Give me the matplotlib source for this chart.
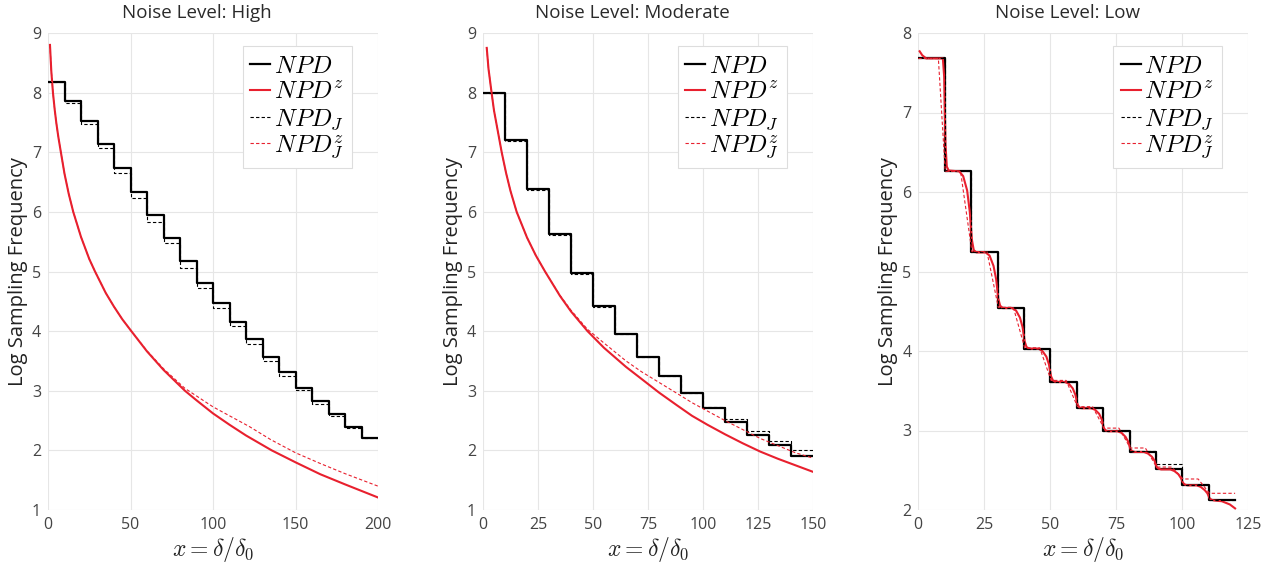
import matplotlib.pyplot as plt

plt.rcParams['font.family'] = ['Open Sans', 'DejaVu Sans']
plt.rcParams['mathtext.fontset'] = 'cm'

RED = '#e8202e'

# ---- Noise level: High ----
high_edges = list(range(0, 201, 10))
high_npd = [8.18, 7.86, 7.52, 7.14, 6.73, 6.33, 5.94, 5.56, 5.17, 4.81,
            4.48, 4.16, 3.86, 3.57, 3.31, 3.05, 2.82, 2.61, 2.40, 2.21]
high_npd_j = [8.17, 7.82, 7.47, 7.07, 6.65, 6.23, 5.83, 5.47, 5.06, 4.72,
              4.39, 4.08, 3.79, 3.50, 3.25, 3.01, 2.78, 2.57, 2.38, 2.21]
high_z_x = [1.2, 2, 3, 4, 5, 6.3, 7.8, 10, 12.5, 15.3, 20, 25, 28.5, 35, 40, 45,
            50.5, 60, 70, 83, 90, 100, 110, 120, 135.6, 150, 165, 180, 200]
high_z_y = [8.80, 8.36, 8.00, 7.73, 7.50, 7.25, 7.00, 6.64, 6.31, 6.00, 5.58, 5.21,
            5.00, 4.64, 4.41, 4.20, 4.00, 3.66, 3.35, 3.00, 2.84, 2.62, 2.43, 2.25,
            2.00, 1.80, 1.60, 1.43, 1.21]
high_zj_x = [1.2, 2, 3, 4, 5, 6.3, 7.8, 10, 12.5, 15.3, 20, 25, 28.5, 35, 40, 45,
             50.5, 60, 70, 83, 100, 122, 135, 150, 165, 180, 200]
high_zj_y = [8.80, 8.36, 8.00, 7.73, 7.50, 7.25, 7.00, 6.64, 6.31, 6.00, 5.58, 5.21,
             5.00, 4.64, 4.41, 4.20, 4.00, 3.67, 3.37, 3.04, 2.73, 2.40, 2.18, 1.96,
             1.78, 1.61, 1.40]

# ---- Noise level: Moderate ----
mod_edges = list(range(0, 151, 10))
mod_npd = [8.00, 7.20, 6.38, 5.63, 4.97, 4.42, 3.96, 3.57, 3.24, 2.96,
           2.71, 2.47, 2.26, 2.09, 1.91]
mod_npd_j = [8.00, 7.19, 6.36, 5.62, 4.96, 4.41, 3.96, 3.57, 3.24, 2.97,
             2.73, 2.52, 2.33, 2.16, 2.01]
mod_z_x = [1.7, 2.5, 3.9, 5, 6.5, 8.5, 10.5, 12.5, 15.3, 20, 24, 28.2, 35, 40,
           47.5, 55, 65, 72, 80, 88, 95, 102, 110, 118, 126, 134, 142, 150]
mod_z_y = [8.75, 8.40, 8.00, 7.70, 7.40, 7.00, 6.65, 6.35, 6.00, 5.57, 5.27, 5.00,
           4.59, 4.33, 4.00, 3.72, 3.40, 3.20, 2.97, 2.76, 2.58, 2.43, 2.27, 2.12,
           1.98, 1.86, 1.75, 1.64]
mod_zj_x = [1.7, 2.5, 3.9, 5, 6.5, 8.5, 10.5, 12.5, 15.3, 20, 24, 28.2, 35, 40,
            47.5, 55, 65, 72, 80, 88, 95, 102, 110, 118, 126, 134, 142, 150]
mod_zj_y = [8.75, 8.40, 8.00, 7.70, 7.40, 7.00, 6.65, 6.35, 6.00, 5.57, 5.27, 5.00,
            4.60, 4.35, 4.03, 3.80, 3.50, 3.32, 3.14, 2.96, 2.80, 2.66, 2.50, 2.35,
            2.20, 2.08, 1.96, 1.87]

# ---- Noise level: Low ----
low_edges = list(range(0, 121, 10))
low_npd = [7.68, 6.26, 5.24, 4.54, 4.03, 3.61, 3.28, 2.99, 2.73, 2.52, 2.31, 2.12]
low_npd_j = [7.68, 6.26, 5.24, 4.54, 4.03, 3.61, 3.28, 2.99, 2.74, 2.58, 2.32, 2.13]
low_z_x = [0.5, 1.5, 3, 9.3, 9.8, 10.3, 10.8, 11.5,
           15.5, 17, 18.5, 19.5, 20.3, 21, 22,
           25.5, 27, 28.5, 29.5, 30.3, 31, 32,
           35.5, 37, 38.5, 39.5, 40.3, 41, 42,
           45.5, 47, 48.5, 49.5, 50.3, 51, 52,
           55.5, 57, 58.5, 59.5, 60.3, 61, 62,
           65.5, 67, 68.5, 69.5, 70.3, 71, 72,
           75.5, 77, 78.5, 79.5, 80.3, 81, 82,
           85.5, 87, 88.5, 89.5, 90.3, 91, 92,
           95.5, 97, 98.5, 99.5, 100.3, 101, 102,
           105.5, 107, 108.5, 109.5, 110.3, 111, 112,
           115, 118, 120]
low_z_y = [7.77, 7.72, 7.68, 7.68, 7.45, 6.60, 6.32, 6.27,
           6.26, 6.20, 6.02, 5.75, 5.40, 5.27, 5.24,
           5.24, 5.20, 5.07, 4.90, 4.66, 4.57, 4.54,
           4.54, 4.51, 4.42, 4.30, 4.12, 4.05, 4.03,
           4.03, 4.00, 3.93, 3.83, 3.68, 3.63, 3.61,
           3.61, 3.59, 3.53, 3.45, 3.33, 3.29, 3.28,
           3.28, 3.26, 3.21, 3.14, 3.03, 3.00, 2.99,
           2.99, 2.97, 2.92, 2.86, 2.77, 2.74, 2.73,
           2.73, 2.71, 2.67, 2.62, 2.54, 2.52, 2.51,
           2.51, 2.49, 2.45, 2.40, 2.34, 2.32, 2.31,
           2.31, 2.29, 2.25, 2.21, 2.15, 2.13, 2.12,
           2.11, 2.07, 2.02]
low_zj_x = [0, 7.6, 10.2, 16, 20.3, 26, 30.3, 36, 40.3, 46, 50.3, 56, 60.3, 66, 70.3,
            76, 80.3, 86, 90.3, 96, 100.3, 106, 110.3, 120]
low_zj_y = [7.68, 7.68, 6.26, 6.26, 5.25, 5.25, 4.55, 4.55, 4.04, 4.04, 3.63, 3.63,
            3.30, 3.30, 3.03, 3.03, 2.78, 2.78, 2.54, 2.54, 2.39, 2.39, 2.21, 2.21]

titles = ['Noise Level: High', 'Noise Level: Moderate', 'Noise Level: Low']
labels = [r'$NPD$', r'$NPD^z$', r'$NPD_J$', r'$NPD_J^z$']

fig = plt.figure(figsize=(12.86, 5.65), dpi=100)

lefts = [48 / 1286, 483 / 1286, 918.3 / 1286]
panel_data = [
    (high_edges, high_npd, high_npd_j, high_z_x, high_z_y, high_zj_x, high_zj_y,
     (0, 200), [0, 50, 100, 150, 200], (1, 9), range(1, 10)),
    (mod_edges, mod_npd, mod_npd_j, mod_z_x, mod_z_y, mod_zj_x, mod_zj_y,
     (0, 150), [0, 25, 50, 75, 100, 125, 150], (1, 9), range(1, 10)),
    (low_edges, low_npd, low_npd_j, low_z_x, low_z_y, low_zj_x, low_zj_y,
     (0, 125), [0, 25, 50, 75, 100, 125], (2, 8), range(2, 9)),
]

for i, (edges, npd, npd_j, zx, zy, zjx, zjy, xlim, xt, ylim, yt) in enumerate(panel_data):
    ax = fig.add_axes([lefts[i], 55 / 565, 330 / 1286, 477 / 565])

    l1, = ax.step(edges, npd + [npd[-1]], where='post', color='black', lw=1.6)
    l2, = ax.plot(zx, zy, color=RED, lw=1.5)
    l3, = ax.step(edges, npd_j + [npd_j[-1]], where='post', color='black',
                  lw=0.8, ls=(0, (3, 2)))
    l4, = ax.plot(zjx, zjy, color=RED, lw=0.8, ls=(0, (3, 2)))

    ax.set_xlim(*xlim)
    ax.set_ylim(*ylim)
    ax.set_xticks(xt)
    ax.set_yticks(list(yt))
    ax.grid(True, color='#e6e6e6', lw=0.8)
    ax.set_axisbelow(True)
    for s in ax.spines.values():
        s.set_visible(False)
    ax.tick_params(length=0, labelsize=11.5, labelcolor='#444444', pad=5)

    ax.text(0.452, 1.031, titles[i], transform=ax.transAxes, ha='center',
            va='baseline', fontsize=13.5, color='#2a2a2a')
    ax.text(-0.092, 0.5, 'Log Sampling Frequency', transform=ax.transAxes,
            rotation=90, ha='center', va='center', fontsize=14.5, color='#222222')
    ax.text(0.5, -0.082, r'$x = \delta/\delta_0$', transform=ax.transAxes,
            ha='center', va='center', fontsize=17, color='#222222')

    leg = ax.legend([l1, l2, l3, l4], labels, loc='upper right',
                    bbox_to_anchor=(0.92, 0.972), borderaxespad=0, fontsize=18,
                    handlelength=0.8, handletextpad=0.15, labelspacing=0.05,
                    borderpad=0.3, fancybox=False, framealpha=1)
    leg.get_frame().set_edgecolor('#dddddd')
    leg.get_frame().set_linewidth(0.8)

plt.savefig('out.png', dpi=100, facecolor='white')
